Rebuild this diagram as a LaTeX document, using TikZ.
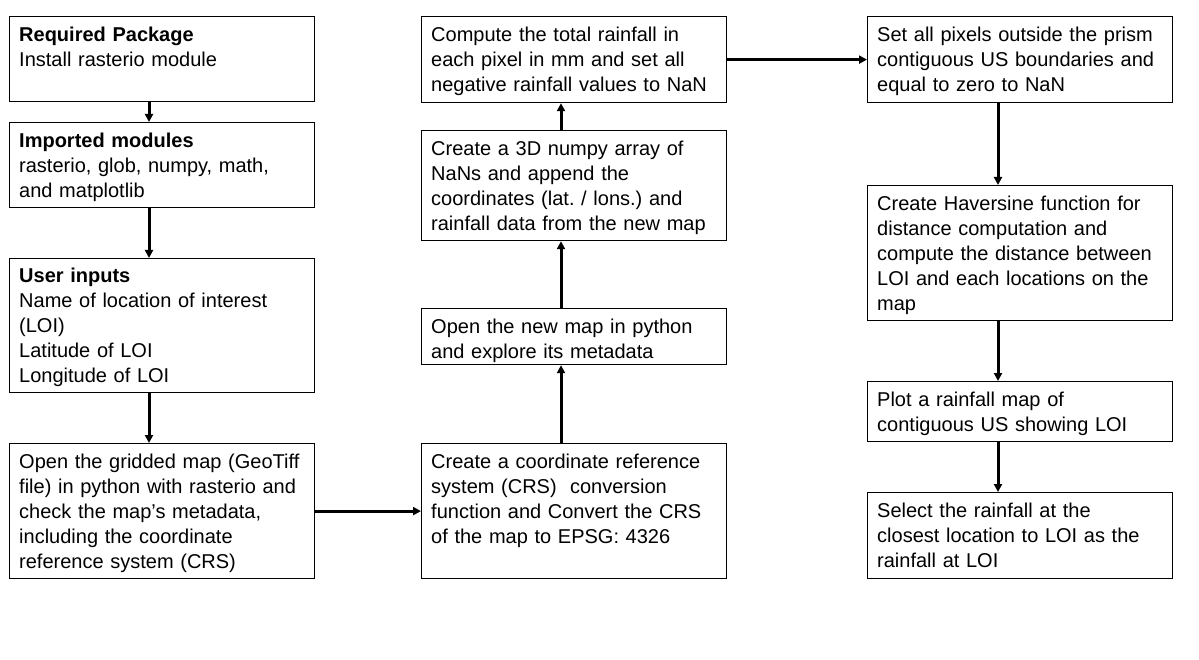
\documentclass[tikz,border=0pt]{standalone}
\usepackage{fontspec}
\setmainfont{Liberation Sans}
\usetikzlibrary{calc,arrows.meta}
\begin{document}
\frenchspacing
\begin{tikzpicture}[x=1pt,y=-1pt,
  box/.style={draw, line width=1.2pt, minimum width=305pt, minimum height=#1, anchor=north west, inner sep=0pt},
  txt/.style={anchor=north west, inner sep=0pt, align=left, text width=298pt, font=\fontsize{20}{25}\selectfont\frenchspacing},
  arr/.style={line width=3pt, -{Triangle[width=8pt,length=8pt]}}]
\useasboundingbox (0,0) rectangle (1199,660);
% column 1
\node[box=85pt]  (b1) at (9,16) {};
\node[box=85pt]  (b2) at (9,122) {};
\node[box=134pt] (b3) at (9,258) {};
\node[box=135pt] (b4) at (9,443) {};
% column 2
\node[box=135pt] (cA) at (421,443) {};
\node[box=56pt]  (cB) at (421,308) {};
\node[box=110pt] (cC) at (421,130) {};
\node[box=86pt]  (cD) at (421,16) {};
% column 3
\node[box=86pt]  (cE) at (867,16) {};
\node[box=135pt] (cF) at (867,185) {};
\node[box=60pt]  (cG) at (867,381) {};
\node[box=86pt]  (cH) at (867,492) {};
% texts
\node[txt] (t1) at ($(b1.north west)+(10,7.5)$) {\strut\textbf{Required Package}\\Install rasterio module};
\node[txt] (t2) at ($(b2.north west)+(10,7.5)$) {\strut\textbf{Imported modules}\\rasterio, glob, numpy, math,\\and matplotlib};
\node[txt] (t3) at ($(b3.north west)+(10,7)$) {\strut\textbf{User inputs}\\Name of location of interest\\(LOI)\\Latitude of LOI\\Longitude of LOI};
\node[txt] (t4) at ($(b4.north west)+(10,7.5)$) {\strut Open the gridded map (GeoTiff\\file) in python with rasterio and\\check the map’s metadata,\\including the coordinate\\reference system (CRS)};
\node[txt] (tA) at ($(cA.north west)+(10,7.5)$) {\strut Create a coordinate reference\\system (CRS)~ conversion\\function and Convert the CRS\\of the map to EPSG: 4326};
\node[txt] (tB) at ($(cB.north west)+(10,7.5)$) {\strut Open the new map in python\\and explore its metadata};
\node[txt] (tC) at ($(cC.north west)+(10,8)$) {\strut Create a 3D numpy array of\\NaNs and append the\\coordinates (lat. / lons.) and\\rainfall data from the new map};
\node[txt] (tD) at ($(cD.north west)+(10,7.5)$) {\strut Compute the total rainfall in\\each pixel in mm and set all\\negative rainfall values to NaN};
\node[txt] (tE) at ($(cE.north west)+(10,7.5)$) {\strut Set all pixels outside the prism\\contiguous US boundaries and\\equal to zero to NaN};
\node[txt] (tF) at ($(cF.north west)+(10,7.5)$) {\strut Create Haversine function for\\distance computation and\\compute the distance between\\LOI and each locations on the\\map};
\node[txt] (tG) at ($(cG.north west)+(10,7.5)$) {\strut Plot a rainfall map of\\contiguous US showing LOI};
\node[txt] (tH) at ($(cH.north west)+(10,7.5)$) {\strut Select the rainfall at the\\closest location to LOI as the\\rainfall at LOI};
% arrows
\draw[arr] ($(b1.south west)+(140,0)$) -- ($(b2.north west)+(140,0)$);
\draw[arr] ($(b2.south west)+(140,0)$) -- ($(b3.north west)+(140,0)$);
\draw[arr] ($(b3.south west)+(140,0)$) -- ($(b4.north west)+(140,0)$);
\draw[arr] (b4.east) -- (cA.west);
\draw[arr] ($(cA.north west)+(140,0)$) -- ($(cB.south west)+(140,0)$);
\draw[arr] ($(cB.north west)+(140,0)$) -- ($(cC.south west)+(140,0)$);
\draw[arr] ($(cC.north west)+(140,0)$) -- ($(cD.south west)+(140,0)$);
\draw[arr] (cD.east) -- (cE.west);
\draw[arr] ($(cE.south west)+(131,0)$) -- ($(cF.north west)+(131,0)$);
\draw[arr] ($(cF.south west)+(131,0)$) -- ($(cG.north west)+(131,0)$);
\draw[arr] ($(cG.south west)+(131,0)$) -- ($(cH.north west)+(131,0)$);
\end{tikzpicture}
\end{document}
